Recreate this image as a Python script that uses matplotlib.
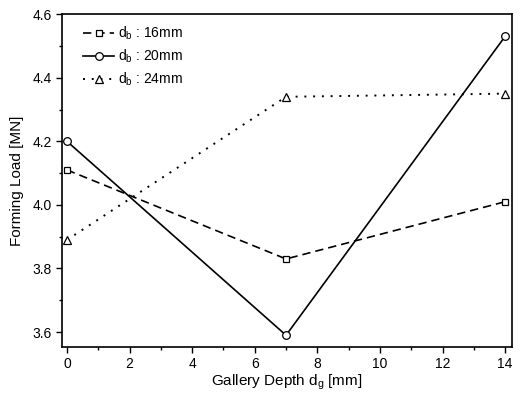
import numpy as np
import matplotlib
matplotlib.use('Agg')
import matplotlib.pyplot as plt
from matplotlib.ticker import MultipleLocator

plt.rcParams['font.family'] = ['Liberation Sans', 'DejaVu Sans']
plt.rcParams['mathtext.fontset'] = 'custom'
plt.rcParams['mathtext.rm'] = 'Liberation Sans'
plt.rcParams['mathtext.it'] = 'Liberation Sans'

# gallery depth [mm]
depth = [0, 7, 14]
# forming load [MN] for each bolt diameter
load_16 = [4.11, 3.83, 4.01]
load_20 = [4.20, 3.59, 4.53]
load_24 = [3.89, 4.34, 4.35]

fig = plt.figure(figsize=(5.27, 3.93), dpi=100)
ax = fig.add_axes([0.1176, 0.117, 0.8539, 0.847])

ax.plot(depth, load_16, ls=(0, (5, 3)), color='k', lw=1.2, marker='s',
        ms=4.5, mfc='white', mec='k', mew=0.9, label=r'd$_\mathrm{b}$ : 16mm')
ax.plot(depth, load_20, ls='-', color='k', lw=1.2, marker='o',
        ms=5.5, mfc='white', mec='k', mew=0.9, label=r'd$_\mathrm{b}$ : 20mm')
ax.plot(depth, load_24, ls=(0, (1, 3.5)), color='k', lw=1.4, marker='^',
        ms=5.5, mfc='white', mec='k', mew=0.9, label=r'd$_\mathrm{b}$ : 24mm')

ax.set_xlim(-0.16, 14.22)
ax.set_ylim(3.553, 4.6)
ax.xaxis.set_major_locator(MultipleLocator(2))
ax.xaxis.set_minor_locator(MultipleLocator(1))
ax.yaxis.set_major_locator(MultipleLocator(0.2))
ax.yaxis.set_minor_locator(MultipleLocator(0.1))
ax.yaxis.set_major_formatter(matplotlib.ticker.FormatStrFormatter('%.1f'))
ax.tick_params(which='major', direction='out', length=4, width=1, labelsize=10)
ax.tick_params(which='minor', direction='out', length=2.5, width=1)
for s in ax.spines.values():
    s.set_linewidth(1.2)

ax.set_xlabel(r'Gallery Depth d$_\mathrm{g}$ [mm]', fontsize=11, labelpad=1)
ax.set_ylabel('Forming Load [MN]', fontsize=11, labelpad=6)

ax.legend(loc='upper left', bbox_to_anchor=(0.02, 1.005), frameon=False,
          fontsize=10, handlelength=2.2, handletextpad=0.3, labelspacing=0.4)

fig.savefig('out.png', dpi=100)
